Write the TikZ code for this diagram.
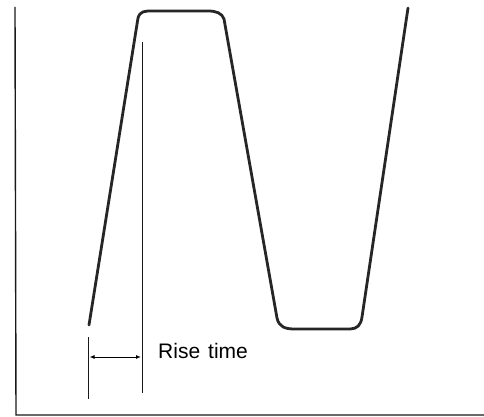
\documentclass[tikz,border=0pt]{standalone}
\usepackage{fontspec}
\setmainfont{Liberation Sans}
\usetikzlibrary{arrows.meta}
\tikzset{
  wave/.style={line width=2.8pt, line join=round, line cap=round, color=black!85},
  axis/.style={line width=1.4pt, color=black!90},
  guide/.style={line width=1pt, color=black!90},
  dim/.style={line width=1pt, {Latex[length=5pt,width=4pt]}-{Latex[length=5pt,width=4pt]}}
}
\begin{document}
\begin{tikzpicture}[x=1pt,y=-1pt]
\useasboundingbox (0,0) rectangle (484,417);
% axes
\draw[axis] (15,7) -- (16,415) -- (484,415);
% waveform
\draw[wave] (89,325) -- (138,18) .. controls (140,11) and (145,11) .. (152,11)
  -- (208,11) .. controls (216,11) and (222,13) .. (224,19)
  -- (277,318) .. controls (279,327) and (285,329) .. (295,329)
  -- (350,329) .. controls (357,329) and (361,325) .. (362,317)
  -- (408,8);
% guide lines
\coordinate (gTop) at (142,42);
\coordinate (gBot) at (142,393);
\coordinate (tTop) at (88.5,337);
\coordinate (tBot) at (88.5,399);
\draw[guide] (gTop) -- (gBot);
\draw[guide] (tTop) -- (tBot);
\draw[dim] (89.5,357) -- (141,357);
\node[anchor=base west, font=\fontsize{21}{23}\selectfont, inner sep=0pt] (lbl) at (158,358)
  {Rise\hspace{8pt}time};
\end{tikzpicture}
\end{document}
